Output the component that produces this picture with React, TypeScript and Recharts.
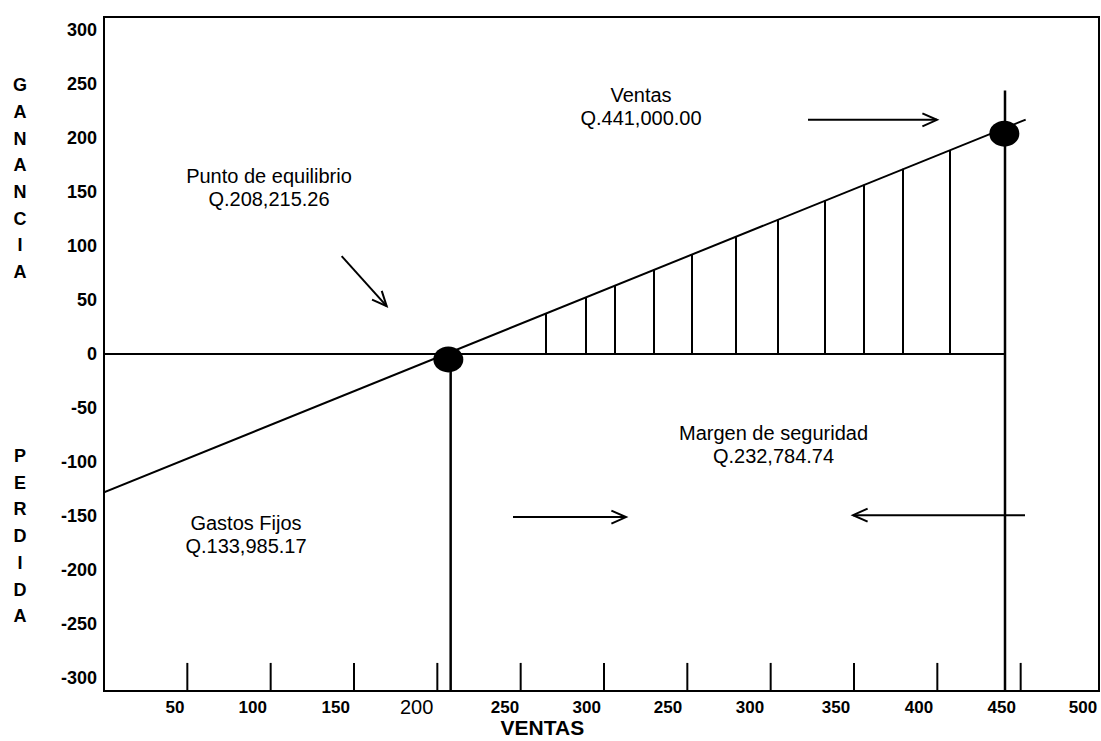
import React from 'react';
import {
  ComposedChart,
  Line,
  XAxis,
  YAxis,
  ReferenceLine,
  ReferenceDot,
  ReferenceArea,
  Scatter,
} from 'recharts';

// ---------- data ----------
const xDomain = [0, 597];
const yDomain = [-312, 312];

const xTickPositions = [42.6, 89.2, 139, 187.6, 240.6, 289.6, 338.4, 387.6, 439.2, 489, 538.6, 587.4];
const xTickLabels = ['50', '100', '150', '200', '250', '300', '250', '300', '350', '400', '450', '500'];
const yTicks = [300, 250, 200, 150, 100, 50, 0, -50, -100, -150, -200, -250, -300];
const tickMarkX = [50, 100, 150, 200, 250, 300, 350, 400, 450, 500, 550];

const profitLine = [
  { x: 0, y: -128 },
  { x: 553, y: 217 },
];
const breakEvenPoint = [{ x: 206.6, y: -5 }];
const salesPoint = [{ x: 540.2, y: 204 }];
const breakEvenDrop = [
  { x: 208, y: -5 },
  { x: 208, y: -312 },
];
const salesDrop = [
  { x: 540.6, y: 244 },
  { x: 540.6, y: -312 },
];
const zeroLine = [
  { x: 0, y: 0 },
  { x: 540.6, y: 0 },
];
const hatchX = [265.2, 289.2, 306.6, 330, 352.8, 379.2, 404.4, 432.6, 456, 479.4, 507.6];
const hatchTop = [37.8, 52.7, 63.6, 78.2, 92.4, 108.9, 124.6, 142.2, 156.8, 171.4, 188.9];

const annotations = [
  { x: 99, y: 154, lines: ['Punto de equilibrio', 'Q.208,215.26'] },
  { x: 322.2, y: 229.5, lines: ['Ventas', 'Q.441,000.00'] },
  { x: 401.7, y: -84, lines: ['Margen de seguridad', 'Q.232,784.74'] },
  { x: 85.2, y: -167, lines: ['Gastos Fijos', 'Q.133,985.17'] },
];
const arrows = [
  { from: { x: 142.6, y: 90.6 }, to: { x: 169.6, y: 44.3 } },
  { from: { x: 422.4, y: 216.8 }, to: { x: 499.8, y: 216.8 } },
  { from: { x: 245.4, y: -151 }, to: { x: 313.2, y: -151 } },
  { from: { x: 552.6, y: -149.2 }, to: { x: 449.4, y: -149.2 } },
];
const sideWords = [
  { x: -50.4, y: 248.8, text: 'GANANCIA' },
  { x: -50.4, y: -94.5, text: 'PERDIDA' },
];
const xAxisTitle = { x: 263, y: -346, text: 'VENTAS' };

// ---------- styles ----------
const FONT = 'Liberation Sans, Arial, Helvetica, sans-serif';
const NARROW = 'Liberation Sans Narrow, Arial Narrow, Liberation Sans, Arial, sans-serif';

const XTick = (props: any) => {
  const { x, y, index } = props;
  const label = xTickLabels[index];
  const big = index === 3;
  return (
    <text
      x={x}
      y={y + 16}
      textAnchor="middle"
      dominantBaseline="central"
      fontFamily={big ? FONT : NARROW}
      fontWeight={big ? 400 : 700}
      fontSize={big ? 20 : 17}
      fill="#000"
    >
      {label}
    </text>
  );
};

const makeTextBlock = (lines: string[]) => (props: any) => {
  const { cx, cy } = props;
  const step = 23;
  const start = cy - ((lines.length - 1) * step) / 2;
  return (
    <g>
      {lines.map((l, i) => (
        <text
          key={i}
          x={cx}
          y={start + i * step}
          textAnchor="middle"
          dominantBaseline="central"
          fontFamily={FONT}
          fontSize={20}
          fill="#000"
        >
          {l}
        </text>
      ))}
    </g>
  );
};

const makeStack = (text: string) => (props: any) => {
  const { cx, cy } = props;
  return (
    <g>
      {text.split('').map((ch, i) => (
        <text
          key={i}
          x={cx}
          y={cy + i * 26.7}
          textAnchor="middle"
          dominantBaseline="central"
          fontFamily={FONT}
          fontWeight={700}
          fontSize={18}
          fill="#000"
        >
          {ch}
        </text>
      ))}
    </g>
  );
};

const TitleShape = (props: any) => {
  const { cx, cy } = props;
  return (
    <text
      x={cx}
      y={cy}
      textAnchor="middle"
      dominantBaseline="central"
      fontFamily={NARROW}
      fontWeight={700}
      fontSize={21}
      fill="#000"
    >
      {xAxisTitle.text}
    </text>
  );
};

const ArrowShape = (p: any) => {
  const { x1, y1, x2, y2 } = p;
  const ang = Math.atan2(y2 - y1, x2 - x1);
  const L = 16;
  const a = 0.42;
  const ax = x2 - L * Math.cos(ang - a);
  const ay = y2 - L * Math.sin(ang - a);
  const bx = x2 - L * Math.cos(ang + a);
  const by = y2 - L * Math.sin(ang + a);
  return (
    <g>
      <line x1={x1} y1={y1} x2={x2} y2={y2} stroke="#000" strokeWidth={2} />
      <polyline points={`${ax},${ay} ${x2},${y2} ${bx},${by}`} fill="none" stroke="#000" strokeWidth={2} />
    </g>
  );
};

const Ellipse = (props: any) => {
  const { cx, cy } = props;
  return <ellipse cx={cx} cy={cy} rx={15} ry={13} fill="#000" />;
};

export default function App() {
  return (
    <div style={{ position: 'absolute', left: 0, top: 0, width: 1101, height: 741, background: '#fff' }}>
      <ComposedChart width={1101} height={741} margin={{ top: 17, right: 2, bottom: 0, left: 8 }}>
        <XAxis
          type="number"
          dataKey="x"
          domain={xDomain}
          ticks={xTickPositions}
          interval={0}
          tick={<XTick />}
          tickLine={false}
          axisLine={false}
          tickSize={0}
          tickMargin={0}
          height={50}
          allowDataOverflow
        />
        <YAxis
          type="number"
          dataKey="y"
          domain={yDomain}
          ticks={yTicks}
          interval={0}
          tick={{ fill: '#000', fontSize: 18, fontWeight: 700, fontFamily: FONT }}
          tickLine={false}
          axisLine={false}
          tickSize={0}
          tickMargin={7}
          width={96}
          allowDataOverflow
        />
        <ReferenceArea
          x1={xDomain[0]}
          x2={xDomain[1]}
          y1={yDomain[0]}
          y2={yDomain[1]}
          fill="none"
          fillOpacity={0}
          stroke="#000"
          strokeWidth={2}
          ifOverflow="visible"
        />
        <Line data={zeroLine} dataKey="y" stroke="#000" strokeWidth={2} dot={false} isAnimationActive={false} />
        <Line data={profitLine} dataKey="y" stroke="#000" strokeWidth={2} dot={false} isAnimationActive={false} />
        <Line data={breakEvenDrop} dataKey="y" stroke="#000" strokeWidth={2.5} dot={false} isAnimationActive={false} />
        <Line data={salesDrop} dataKey="y" stroke="#000" strokeWidth={2.5} dot={false} isAnimationActive={false} />
        {hatchX.map((hx, i) => (
          <ReferenceLine
            key={'h' + i}
            segment={[
              { x: hx, y: 0 },
              { x: hx, y: hatchTop[i] },
            ]}
            stroke="#000"
            strokeWidth={2}
            ifOverflow="visible"
          />
        ))}
        {tickMarkX.map((tx, i) => (
          <ReferenceLine
            key={'t' + i}
            segment={[
              { x: tx, y: yDomain[0] },
              { x: tx, y: yDomain[0] + 26 },
            ]}
            stroke="#000"
            strokeWidth={2}
            ifOverflow="visible"
          />
        ))}
        {arrows.map((a, i) => (
          <ReferenceLine
            key={'a' + i}
            segment={[a.from, a.to]}
            shape={ArrowShape}
            ifOverflow="visible"
          />
        ))}
        {annotations.map((an, i) => (
          <ReferenceDot
            key={'n' + i}
            x={an.x}
            y={an.y}
            r={0}
            shape={makeTextBlock(an.lines)}
            ifOverflow="visible"
          />
        ))}
        {sideWords.map((w, i) => (
          <ReferenceDot key={'w' + i} x={w.x} y={w.y} r={0} shape={makeStack(w.text)} ifOverflow="visible" />
        ))}
        <ReferenceDot x={xAxisTitle.x} y={xAxisTitle.y} r={0} shape={TitleShape} ifOverflow="visible" />
        <Scatter data={breakEvenPoint} dataKey="y" shape={Ellipse} isAnimationActive={false} />
        <Scatter data={salesPoint} dataKey="y" shape={Ellipse} isAnimationActive={false} />
      </ComposedChart>
    </div>
  );
}
